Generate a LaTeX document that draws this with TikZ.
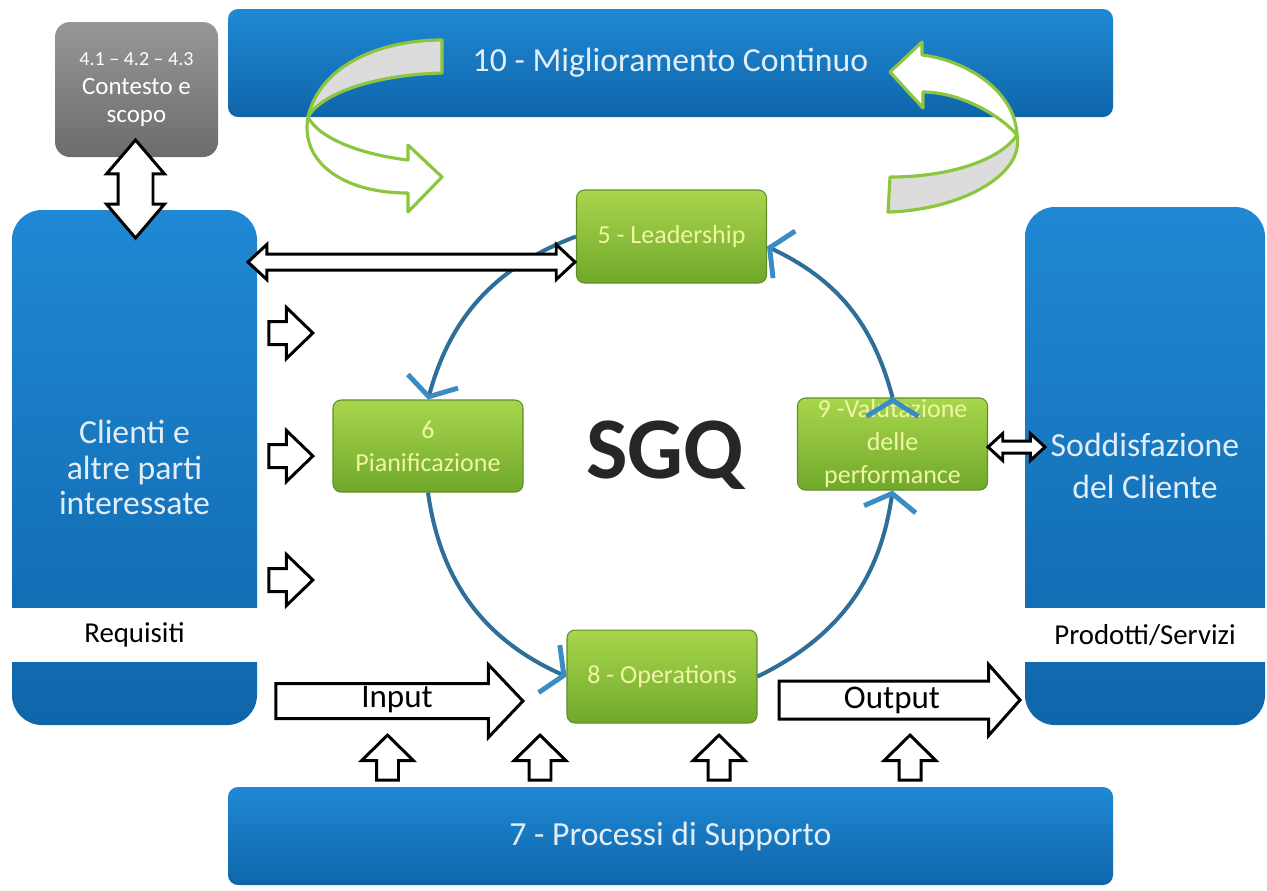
\documentclass[tikz,border=0pt]{standalone}
\usepackage{fontspec}
\setmainfont{Carlito}
\usepackage{xcolor}
\usepackage{tikz}
\usetikzlibrary{shapes.arrows,arrows.meta}

\definecolor{bluetop}{HTML}{1F88D4}
\definecolor{bluebot}{HTML}{0F66AA}
\definecolor{bluetext}{HTML}{E2EDF7}
\definecolor{greentop}{HTML}{A8D64C}
\definecolor{greenbot}{HTML}{70A82B}
\definecolor{greenline}{HTML}{8CC63F}
\definecolor{greentext}{HTML}{F0F6A4}
\definecolor{greytop}{HTML}{979797}
\definecolor{greybot}{HTML}{6C6C6C}
\definecolor{cyclecol}{HTML}{2E6F99}
\definecolor{tipcol}{HTML}{3B8BC4}
\definecolor{ribbongrey}{HTML}{DCDCDC}
\definecolor{sgqcol}{HTML}{262626}

\tikzset{
  bluebox/.style={rounded corners=3mm, top color=bluetop, bottom color=bluebot,
    text=bluetext, align=center, inner sep=0pt, font=\fontsize{9.6}{10}\selectfont},
  bar/.style={bluebox, rounded corners=1mm},
  band/.style={fill=white, minimum width=#1, minimum height=5.4mm, inner sep=0pt,
    text=black, font=\fontsize{8.2}{10}\selectfont},
  greybox/.style={rounded corners=1.5mm, top color=greytop, bottom color=greybot,
    text=white, align=center, inner sep=0pt, minimum width=16.3mm, minimum height=13.5mm,
    font=\fontsize{7.1}{8.1}\selectfont},
  greenbox/.style={rounded corners=0.8mm, top color=greentop, bottom color=greenbot,
    draw=greenbot!85!black, line width=0.3pt, minimum width=19mm, minimum height=9.3mm,
    inner sep=0pt, text=greentext, align=center, font=\fontsize{7.4}{9.4}\selectfont},
  blockarr/.style={draw=black, fill=white, line width=0.85pt, inner xsep=0pt, inner ysep=#1},
  ribbon/.style={draw=greenline, line width=0.9pt, line join=round},
  cyc/.style={draw=cyclecol, line width=1.15pt,
    -{Straight Barb[length=1.6mm, width=5.2mm, line width=1.4pt, color=tipcol]}},
  bigtext/.style={text=black, font=\fontsize{9.4}{10}\selectfont}
}

\begin{document}
\begin{tikzpicture}[x=0.1mm,y=-0.1mm]
  \useasboundingbox (0,0) rectangle (1267,890);
  % outer boxes
  \node[bar, minimum width=88.5mm, minimum height=10.8mm] (migl) at (670.5,63) {10 - Miglioramento Continuo};
  \node[bar, minimum width=88.5mm, minimum height=9.8mm] (supp) at (670.5,836) {7 - Processi di Supporto};
  \node[bluebox, minimum width=24.5mm, minimum height=51.5mm] (cli) at (134.5,467.5) {Clienti e\\altre parti\\interessate};
  \node[band=24.6mm] (req) at (134.5,635) {Requisiti};
  \node[bluebox, minimum width=24mm, minimum height=51.8mm, font=\fontsize{9.6}{11.9}\selectfont] (sodd) at (1145,466) {Soddisfazione\\del Cliente};
  \node[band=24.1mm] (prod) at (1145,635) {Prodotti/Servizi};
  \node[greybox] (ctx) at (136.5,89.5) {{\fontsize{5.7}{8.1}\selectfont 4.1 – 4.2 – 4.3}\\Contesto e\\scopo};
  % ribbons
  \filldraw[ribbon, fill=ribbongrey] (442,40) .. controls (380,40) and (320,65) .. (308,117)
    .. controls (320,95) and (370,75) .. (442,73) -- cycle;
  \filldraw[ribbon, fill=white] (308,117) .. controls (300,160) and (340,193) .. (408,193)
    -- (408,212) -- (442,177) -- (408,145) -- (408,160)
    .. controls (365,155) and (320,140) .. (308,117) -- cycle;
  \filldraw[ribbon, fill=white] (890,72) -- (922,42) -- (922,55)
    .. controls (965,60) and (1015,90) .. (1017,135)
    .. controls (1000,115) and (960,92) .. (923,92) -- (923,108) -- cycle;
  \filldraw[ribbon, fill=ribbongrey] (1017,135) .. controls (1025,175) and (960,210) .. (888,212)
    -- (890,177) .. controls (950,177) and (1000,160) .. (1017,135) -- cycle;
  % SGQ
  \node[greenbox] (lead) at (671.5,236.5) {5 - Leadership};
  \node[greenbox, minimum height=9.2mm] (pian) at (428,446) {6\\Pianificazione};
  \node[greenbox, minimum height=9.2mm] (valu) at (892.5,444) {9 -Valutazione\\delle\\performance};
  \node[greenbox] (oper) at (662,676.5) {8 - Operations};
  \node[text=sgqcol, font=\fontsize{25}{25}\selectfont\bfseries] (sgq) at (665,455) {SGQ};
  \path[cyc]
    (lead.west) edge[bend right=27] (pian.north)
    (pian.south) edge[bend right=29] (oper.west)
    (oper.east) edge[bend right=28] (valu.south)
    (valu.north) edge[bend right=25] ([yshift=-1mm]lead.east);
  % block arrows
  \node[double arrow, blockarr=1.6mm, rotate=90, minimum height=9.8mm,
    double arrow head extend=1.15mm, double arrow tip angle=81] (ctxarr) at (135.5,189) {};
  \node[double arrow, blockarr=0.65mm, minimum height=32.7mm,
    double arrow head extend=0.95mm, double arrow tip angle=86] (leadarr) at (411.5,262) {};
  \node[double arrow, blockarr=0.45mm, minimum height=5.7mm,
    double arrow head extend=0.75mm, double arrow tip angle=85] (valuarr) at (1016.5,447) {};
  \foreach \y/\n in {333/1,456/2,580/3}
    \node[single arrow, blockarr=1mm, anchor=tip, minimum height=4.4mm,
      single arrow head extend=1.4mm, single arrow tip angle=88] (req\n) at (315,\y) {};
  \node[single arrow, blockarr=1.6mm, anchor=tip, minimum height=24.7mm,
    single arrow head extend=1.9mm, single arrow tip angle=93] (inarr) at (525,701) {};
  \node[bigtext] (input) at (397,700) {Input};
  \node[single arrow, blockarr=1.75mm, anchor=tip, minimum height=24.1mm,
    single arrow head extend=1.65mm, single arrow tip angle=97] (outarr) at (1022,700) {};
  \node[bigtext] (output) at (892,700) {Output};
  \foreach \x/\n in {387.5/1,540/2,719/3,910/4}
    \node[single arrow, blockarr=0.95mm, rotate=90, anchor=tip, minimum height=4.5mm,
      single arrow head extend=1.5mm, single arrow tip angle=91] (sup\n) at (\x,733) {};
\end{tikzpicture}
\end{document}
